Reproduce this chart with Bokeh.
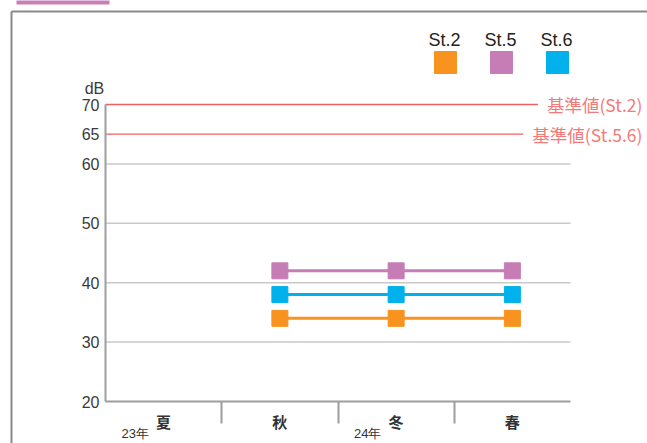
from bokeh.plotting import figure
from bokeh.models import Range1d, FixedTicker, Label, ColumnDataSource
from bokeh.embed import file_html
from bokeh.resources import INLINE

# ---------------- data ----------------
seasons = ["夏", "秋", "冬", "春"]
years = ["23年", "24年"]
year_first_season = ["夏", "冬"]
stations = ["St.2", "St.5", "St.6"]
station_colors = ["#f7931e", "#c67db5", "#00b1eb"]
measured_seasons = ["秋", "冬", "春"]
st2_db = [34, 34, 34]
st5_db = [42, 42, 42]
st6_db = [38, 38, 38]
standard_values = [70, 65]
standard_labels = ["基準値(St.2)", "基準値(St.5.6)"]
y_ticks = [20, 30, 40, 50, 60, 65, 70]
grid_ticks = [30, 40, 50, 60]
y_min, y_max = 20, 70
y_unit = "dB"

# ---------------- geometry (pixels) ----------------
W, H = 647, 443
X0_PX, X4_PX = 105.0, 570.0      # left / right edge of category area
YMIN_PX, YMAX_PX = 401.0, 104.0  # pixel rows of y_min / y_max
n_cat = len(seasons)
sx = (X4_PX - X0_PX) / n_cat
sy = (YMIN_PX - YMAX_PX) / (y_max - y_min)


def X(px):
    return (px - X0_PX) / sx


def Y(py):
    return y_min + (YMIN_PX - py) / sy


p = figure(width=W, height=H, output_backend="svg", toolbar_location=None,
           x_range=Range1d(X(0), X(W)), y_range=Range1d(Y(H), Y(0)),
           min_border=0, min_border_left=0, min_border_right=0,
           min_border_top=0, min_border_bottom=0)
p.outline_line_color = None
p.background_fill_color = "white"
p.border_fill_color = "white"

num_font = "Liberation Sans"
cjk_font = "Noto Sans CJK JP"
axis_gray = "#9d9d9d"

# outer frame (left + top border) and tab
p.segment(x0=[X(11), X(11)], y0=[Y(H + 20), Y(11)],
          x1=[X(11), X(W + 20)], y1=[Y(11), Y(11)],
          line_color="#8a8a8a", line_width=2)
p.quad(left=X(16), right=X(109), top=Y(-10), bottom=Y(4),
       fill_color="#c77fb6", line_color=None)

# y axis
ya = p.yaxis[0]
ya.fixed_location = 0
ya.bounds = (y_min, y_max)
ya.ticker = FixedTicker(ticks=y_ticks, minor_ticks=[])
ya.major_tick_out = 0
ya.major_tick_in = 0
ya.major_tick_line_color = None
ya.minor_tick_line_color = None
ya.axis_line_color = axis_gray
ya.axis_line_width = 2
ya.major_label_standoff = 6
ya.major_label_text_font = num_font
ya.major_label_text_font_size = "16px"
ya.major_label_text_color = "#3a3a3a"

# x axis
xa = p.xaxis[0]
xa.fixed_location = y_min
xa.bounds = (0, n_cat)
xa.ticker = FixedTicker(ticks=[i + 0.5 for i in range(n_cat)],
                        minor_ticks=list(range(1, n_cat)))
xa.major_label_overrides = {i + 0.5: s for i, s in enumerate(seasons)}
xa.major_tick_out = 0
xa.major_tick_in = 0
xa.major_tick_line_color = None
xa.minor_tick_out = 22
xa.minor_tick_in = 0
xa.minor_tick_line_color = axis_gray
xa.minor_tick_line_width = 2
xa.axis_line_color = axis_gray
xa.axis_line_width = 2
xa.major_label_standoff = -13
xa.major_label_text_font = cjk_font
xa.major_label_text_font_size = "15px"
xa.major_label_text_font_style = "bold"
xa.major_label_text_color = "#333333"

# grid (only over the category area)
p.xgrid.visible = False
p.ygrid.visible = False
p.segment(x0=0, x1=n_cat, y0=grid_ticks, y1=grid_ticks,
          line_color="#c9c9c9", line_width=1.5)

# unit label
p.add_layout(Label(x=X(94), y=Y(88), text=y_unit, text_align="center",
                   text_baseline="middle", text_font=num_font,
                   text_font_size="16px", text_color="#3a3a3a"))

# standard (reference) lines + labels (white box hides the line end)
for v, lab in zip(standard_values, standard_labels):
    p.segment(x0=0, y0=v, x1=X(W + 10), y1=v, line_color="#f05f5f", line_width=1.3)
    p.add_layout(Label(x=X(654), y=v, text=lab, text_align="right",
                       text_baseline="middle", text_font=cjk_font,
                       text_font_size="17.5px", text_color="#f47a7a",
                       background_fill_color="white",
                       padding=dict(left=9, right=12, top=1, bottom=1)))

# year labels
for yr, s in zip(years, year_first_season):
    p.add_layout(Label(x=seasons.index(s) + 16 / sx, y=Y(433), text=yr,
                       text_align="left", text_baseline="middle",
                       text_font=num_font, text_font_size="13px",
                       text_color="#333333"))

# series
xs = [seasons.index(s) + 0.5 for s in measured_seasons]
for vals, col in zip([st2_db, st5_db, st6_db], station_colors):
    src = ColumnDataSource(dict(x=xs, y=vals))
    p.line("x", "y", source=src, line_color=col, line_width=3)
    p.scatter("x", "y", source=src, marker="square", size=16,
              fill_color=col, line_color=col)

# legend (label above a square)
leg_x = [444, 500, 556]
for st, col, lx in zip(stations, station_colors, leg_x):
    p.add_layout(Label(x=X(lx), y=Y(39), text=st, text_align="center",
                       text_baseline="middle", text_font=num_font,
                       text_font_size="18px", text_color="#222222"))
    p.scatter(x=[X(lx + 1)], y=[Y(62)], marker="square", size=22,
              fill_color=col, line_color=col)

open("out.html", "w").write(file_html(p, INLINE))
